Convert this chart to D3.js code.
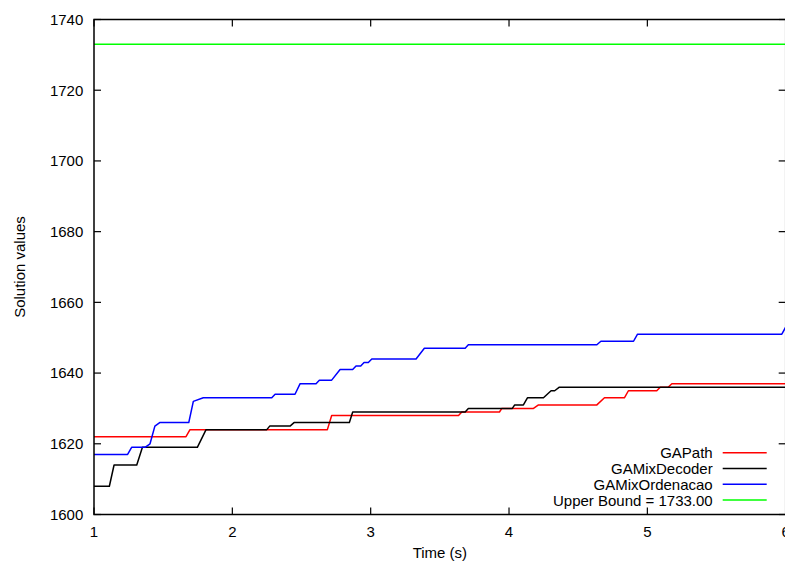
<!DOCTYPE html>
<html>
<head>
<meta charset="utf-8">
<script src="https://cdn.jsdelivr.net/npm/d3@7"></script>
<style>
  html, body { margin: 0; padding: 0; background: #fff; }
  svg { display: block; }
  text { font-family: "Liberation Sans", Arial, Helvetica, sans-serif; font-size: 15px; fill: #000; }
</style>
</head>
<body>
<svg id="chart" width="785" height="562"></svg>
<script>
// ---- data ----
const xTicks = [1, 2, 3, 4, 5, 6];
const yTicks = [1600, 1620, 1640, 1660, 1680, 1700, 1720, 1740];

const gaPathTime  = [1, 1.665, 1.694, 2.687, 2.718, 3.635, 3.659, 3.931, 3.948, 4.177, 4.213, 4.635, 4.69, 4.834, 4.863, 5.068, 5.093, 5.15, 5.177, 6];
const gaPathValue = [1622, 1622, 1624, 1624, 1628, 1628, 1629, 1629, 1630, 1630, 1631, 1631, 1633, 1633, 1635, 1635, 1636, 1636, 1637, 1637];

const gaMixDecoderTime  = [1, 1.111, 1.145, 1.309, 1.35, 1.747, 1.81, 2.249, 2.27, 2.417, 2.446, 2.846, 2.87, 3.683, 3.706, 4.024, 4.041, 4.104, 4.133, 4.249, 4.304, 4.33, 4.364, 6];
const gaMixDecoderValue = [1608, 1608, 1614, 1614, 1619, 1619, 1624, 1624, 1625, 1625, 1626, 1626, 1629, 1629, 1630, 1630, 1631, 1631, 1633, 1633, 1635, 1635, 1636, 1636];

const gaMixOrdTime  = [1, 1.243, 1.272, 1.369, 1.405, 1.44, 1.475, 1.685, 1.718, 1.79, 2.285, 2.309, 2.453, 2.49, 2.605, 2.629, 2.718, 2.779, 2.87, 2.894, 2.928, 2.952, 2.983, 3.008, 3.328, 3.388, 3.683, 3.706, 4.635, 4.664, 4.9, 4.929, 5.972, 6];
const gaMixOrdValue = [1617, 1617, 1619, 1619, 1620, 1625, 1626, 1626, 1632, 1633, 1633, 1634, 1634, 1637, 1637, 1638, 1638, 1641, 1641, 1642, 1642, 1643, 1643, 1644, 1644, 1647, 1647, 1648, 1648, 1649, 1649, 1651, 1651, 1653];

const upperBoundTime  = [1, 6];
const upperBoundValue = [1733, 1733];

const seriesNames  = ["GAPath", "GAMixDecoder", "GAMixOrdenacao", "Upper Bound = 1733.00"];
const seriesColors = ["#ff0000", "#000000", "#0000ff", "#00ff00"];

// ---- build ----
const zip = (ts, vs) => ts.map((t, i) => ({ t: t, v: vs[i] }));
const series = [
  zip(gaPathTime, gaPathValue),
  zip(gaMixDecoderTime, gaMixDecoderValue),
  zip(gaMixOrdTime, gaMixOrdValue),
  zip(upperBoundTime, upperBoundValue)
];

const pLeft = 94, pRight = 785.7, pTop = 19.5, pBottom = 514.5;
const x = d3.scaleLinear().domain([1, 6]).range([pLeft, pRight]);
const y = d3.scaleLinear().domain([1600, 1740]).range([pBottom, pTop]);

const svg = d3.select("#chart");

svg.append("defs").append("clipPath").attr("id", "plotclip")
  .append("rect").attr("x", pLeft).attr("y", pTop)
  .attr("width", pRight - pLeft).attr("height", pBottom - pTop);

const tickLen = 7;
const axisG = svg.append("g").attr("stroke", "#000").attr("stroke-width", 1.2);

// bottom & top ticks
xTicks.forEach(t => {
  axisG.append("line").attr("x1", x(t)).attr("x2", x(t)).attr("y1", pBottom).attr("y2", pBottom - tickLen);
  axisG.append("line").attr("x1", x(t)).attr("x2", x(t)).attr("y1", pTop).attr("y2", pTop + tickLen);
});
// left & right ticks
yTicks.forEach(v => {
  axisG.append("line").attr("x1", pLeft).attr("x2", pLeft + tickLen).attr("y1", y(v)).attr("y2", y(v));
  axisG.append("line").attr("x1", pRight).attr("x2", pRight - tickLen).attr("y1", y(v)).attr("y2", y(v));
});

// tick labels
svg.append("g").selectAll("text").data(xTicks).join("text")
  .attr("x", d => x(d)).attr("y", pBottom + 22)
  .attr("text-anchor", "middle").text(d => d);
svg.append("g").selectAll("text").data(yTicks).join("text")
  .attr("x", pLeft - 10.7).attr("y", d => y(d)).attr("dy", "0.36em")
  .attr("text-anchor", "end").text(d => d);

// axis titles
svg.append("text").attr("x", (pLeft + pRight) / 2).attr("y", 558)
  .attr("text-anchor", "middle").text("Time (s)");
svg.append("text").attr("transform", "translate(25," + ((pTop + pBottom) / 2) + ") rotate(-90)")
  .attr("text-anchor", "middle").text("Solution values");

// series lines
const line = d3.line().x(d => x(d.t)).y(d => y(d.v));
svg.append("g").attr("clip-path", "url(#plotclip)")
  .selectAll("path").data(series).join("path")
  .attr("d", line)
  .attr("fill", "none")
  .attr("stroke", (d, i) => seriesColors[i])
  .attr("stroke-width", 1.5)
  .attr("stroke-linejoin", "round");

// frame
svg.append("rect").attr("x", pLeft).attr("y", pTop)
  .attr("width", pRight - pLeft).attr("height", pBottom - pTop)
  .attr("fill", "none").attr("stroke", "#000").attr("stroke-width", 1.5);

// legend
const legX = 712.7, legY0 = 452.7, legDy = 15.8;
const leg = svg.append("g");
seriesNames.forEach((name, i) => {
  const yy = legY0 + i * legDy;
  leg.append("text").attr("x", legX).attr("y", yy).attr("dy", "0.36em")
    .attr("text-anchor", "end").text(name);
  leg.append("line").attr("x1", 722.7).attr("x2", 766.7).attr("y1", yy).attr("y2", yy)
    .attr("stroke", seriesColors[i]).attr("stroke-width", 1.5);
});
</script>
</body>
</html>
